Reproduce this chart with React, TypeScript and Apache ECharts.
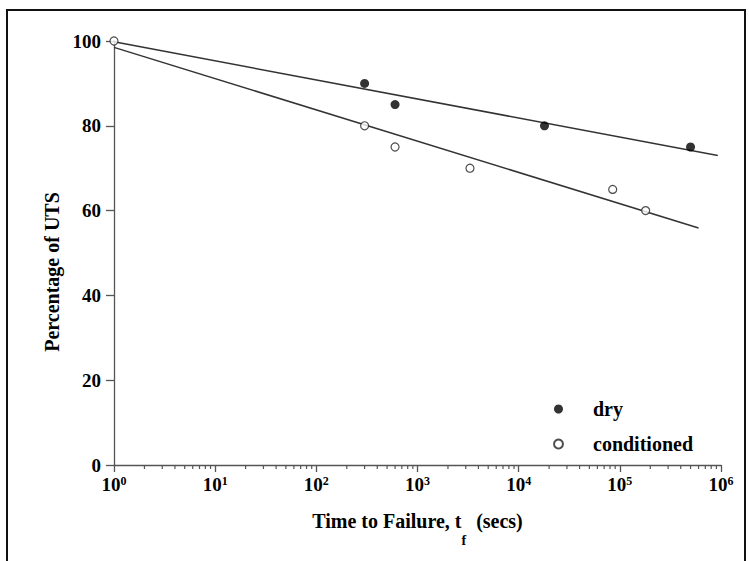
import React, { useEffect, useRef } from "react";
import * as echarts from "echarts";

// Data
const dryTime = [300, 600, 18000, 500000];
const dryPct = [90, 85, 80, 75];
const condTime = [1, 300, 600, 3300, 85000, 180000];
const condPct = [100, 80, 75, 70, 65, 60];
// Fitted trend lines (end points)
const dryFitTime = [1, 930000];
const dryFitPct = [99.8, 73];
const condFitTime = [1, 600000];
const condFitPct = [98.5, 55.9];
// Axis ticks
const xExponents = [0, 1, 2, 3, 4, 5, 6];
const yTickValues = [0, 20, 40, 60, 80, 100];
const minorMultipliers = [2, 3, 4, 5, 6, 7, 8, 9];

const FONT = "'Liberation Serif', 'Times New Roman', serif";

export default function App() {
  const ref = useRef<HTMLDivElement>(null);
  useEffect(() => {
    if (!ref.current) return;
    const chart = echarts.init(ref.current, undefined, { renderer: "svg" });
    const minorTicks: number[][] = [];
    xExponents.slice(0, -1).forEach((e) =>
      minorMultipliers.forEach((m) => minorTicks.push([m * Math.pow(10, e), 0]))
    );
    const zip = (a: number[], b: number[]) => a.map((v, i) => [v, b[i]]);
    chart.setOption({
      animation: false,
      backgroundColor: "#fff",
      graphic: [
        {
          type: "rect",
          shape: { x: 7, y: 10, width: 738, height: 620 },
          style: { fill: "none", stroke: "#111", lineWidth: 2 },
          silent: true,
        },
      ],
      grid: { left: 114, right: 28, top: 41, bottom: 96 },
      legend: {
        data: ["dry", "conditioned"],
        orient: "vertical",
        left: 548,
        top: 394,
        itemWidth: 9,
        itemHeight: 9,
        itemGap: 15,
        icon: "circle",
        textStyle: {
          fontFamily: FONT,
          fontWeight: "bold",
          fontSize: 20,
          color: "#000",
          padding: [0, 0, 0, 25],
        },
      },
      xAxis: {
        type: "log",
        logBase: 10,
        min: 1,
        max: 1000000,
        splitLine: { show: false },
        axisLine: { lineStyle: { color: "#555", width: 1.3 } },
        axisTick: { show: true, length: 7, lineStyle: { color: "#555", width: 1.3 } },
        axisLabel: {
          margin: 10,
          formatter: (v: number) => `{b|10}{s|${Math.round(Math.log10(v))}}`,
          rich: {
            b: { fontFamily: FONT, fontWeight: "bold", fontSize: 19, color: "#000", lineHeight: 20, verticalAlign: "top" },
            s: { fontFamily: FONT, fontWeight: "bold", fontSize: 12, color: "#000", lineHeight: 10, verticalAlign: "top" },
          },
        },
        name: "{a|Time to Failure, t}{f|f}{a|  (secs)}",
        nameLocation: "middle",
        nameGap: 46,
        nameTextStyle: {
          rich: {
            a: { fontFamily: FONT, fontWeight: "bold", fontSize: 20, color: "#000", lineHeight: 20, verticalAlign: "top" },
            f: { fontFamily: FONT, fontWeight: "bold", fontSize: 14, color: "#000", lineHeight: 16, verticalAlign: "top", padding: [22, 0, 0, 0] },
          },
        },
      },
      yAxis: {
        type: "value",
        min: yTickValues[0],
        max: yTickValues[yTickValues.length - 1],
        interval: 20,
        splitLine: { show: false },
        axisLine: { show: true, lineStyle: { color: "#555", width: 1.3 } },
        axisTick: { show: true, length: 8, lineStyle: { color: "#555", width: 1.3 } },
        axisLabel: { margin: 13, fontFamily: FONT, fontWeight: "bold", fontSize: 19, color: "#000" },
        name: "Percentage of UTS",
        nameLocation: "middle",
        nameGap: 50,
        nameTextStyle: {
          fontFamily: FONT,
          fontWeight: "bold",
          fontSize: 20,
          color: "#000",
          padding: [0, 38, 0, 0],
        },
      },
      series: [
        {
          type: "custom",
          silent: true,
          data: minorTicks,
          renderItem: (_p: any, api: any) => {
            const base = api.coord([api.value(0), 0]);
            return {
              type: "line",
              shape: { x1: base[0], y1: base[1], x2: base[0], y2: base[1] + 4 },
              style: { stroke: "#555", lineWidth: 1.2 },
            };
          },
          z: 1,
        },
        {
          name: "dryFit",
          type: "line",
          data: zip(dryFitTime, dryFitPct),
          showSymbol: false,
          lineStyle: { color: "#333", width: 1.5 },
          z: 2,
        },
        {
          name: "condFit",
          type: "line",
          data: zip(condFitTime, condFitPct),
          showSymbol: false,
          lineStyle: { color: "#333", width: 1.5 },
          z: 2,
        },
        {
          name: "dry",
          type: "scatter",
          data: zip(dryTime, dryPct),
          symbol: "circle",
          symbolSize: 9,
          itemStyle: { color: "#000" },
          z: 3,
        },
        {
          name: "conditioned",
          type: "scatter",
          data: zip(condTime, condPct),
          symbol: "circle",
          symbolSize: 8,
          itemStyle: { color: "#fff", borderColor: "#222", borderWidth: 1.2 },
          z: 3,
        },
      ],
    });
    return () => chart.dispose();
  }, []);
  return (
    <div
      ref={ref}
      style={{ position: "absolute", left: 0, top: 0, width: 749, height: 561 }}
    />
  );
}
